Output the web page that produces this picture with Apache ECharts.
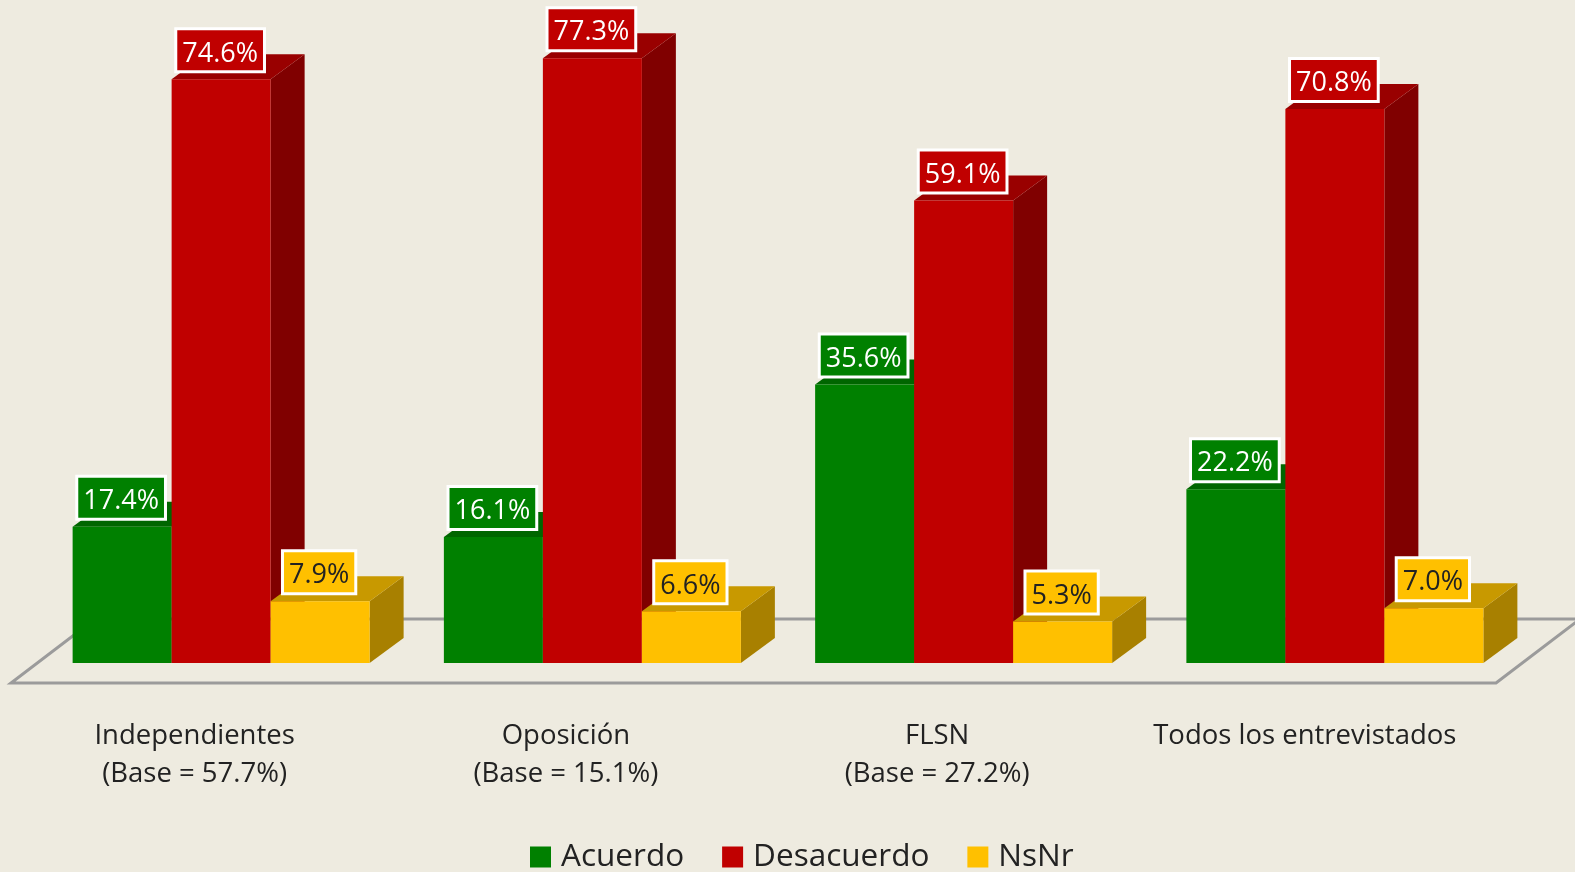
<!DOCTYPE html>
<html>
<head>
<meta charset="utf-8">
<title>Acuerdo / Desacuerdo</title>
<script src="https://cdn.jsdelivr.net/npm/echarts@6/dist/echarts.min.js"></script>
<style>
  html, body { margin: 0; padding: 0; background: #eeebe0; }
  #chart { width: 1575px; height: 872px; }
</style>
</head>
<body>
<div id="chart"></div>
<script>
const categories = [
  "Independientes\n(Base = 57.7%)",
  "Oposición\n(Base = 15.1%)",
  "FLSN\n(Base = 27.2%)",
  "Todos los entrevistados \n "
];
const acuerdo = [17.4, 16.1, 35.6, 22.2];
const desacuerdo = [74.6, 77.3, 59.1, 70.8];
const nsnr = [7.9, 6.6, 5.3, 7.0];

const fontName = '"Open Sans", sans-serif';
const barW = 99;
const depthX = 34;
const depthY = 25;
const groupShift = 26.5; // bars sit further back than the axis labels

// one 3d column: front, top and side faces plus the boxed label
function columnRenderer(slot, faces, textColor) {
  return function (params, api) {
    const val = api.value(1);
    const base = api.coord([api.value(0), 0]);
    const top = api.coord([api.value(0), val]);
    const x0 = base[0] + groupShift + slot * barW - barW / 2;
    const x1 = x0 + barW;
    const y0 = top[1];
    const y1 = base[1];
    return {
      type: "group",
      children: [
        {
          type: "polygon",
          shape: { points: [[x1, y0], [x1 + depthX, y0 - depthY], [x1 + depthX, y1 - depthY], [x1, y1]] },
          style: { fill: faces.side }
        },
        {
          type: "polygon",
          shape: { points: [[x0, y0], [x0 + depthX, y0 - depthY], [x1 + depthX, y0 - depthY], [x1, y0]] },
          style: { fill: faces.top }
        },
        {
          type: "rect",
          shape: { x: x0, y: y0, width: barW, height: y1 - y0 },
          style: { fill: faces.front }
        },
        {
          type: "text",
          z2: 10,
          x: (x0 + x1) / 2 - 1,
          y: y0 - 9,
          style: {
            text: val.toFixed(1) + "%",
            font: '27px ' + fontName,
            fill: textColor,
            align: "center",
            verticalAlign: "bottom",
            backgroundColor: faces.front,
            borderColor: "#ffffff",
            borderWidth: 3,
            padding: [10, 5, 3, 5]
          }
        }
      ]
    };
  };
}

function floorRenderer(params, api) {
  const c = params.coordSys;
  const front = c.y + c.height + 20;
  const back = c.y + c.height - 44;
  return {
    type: "polygon",
    shape: {
      points: [
        [c.x + 2, front],
        [c.x + c.width + 2, front],
        [c.x + c.width + 86, back],
        [c.x + 86, back]
      ]
    },
    style: { fill: "none", stroke: "#9b9b9b", lineWidth: 3 }
  };
}

function toPairs(values) {
  return values.map((v, i) => [i, v]);
}

const chart = echarts.init(document.getElementById("chart"));
chart.setOption({
  animation: false,
  backgroundColor: "#eeebe0",
  textStyle: { fontFamily: fontName },
  grid: { left: 9, width: 1485, top: 5, bottom: 209 },
  legend: {
    data: ["Acuerdo", "Desacuerdo", "NsNr"],
    left: 530,
    top: 841,
    padding: 0,
    icon: "rect",
    itemWidth: 21,
    itemHeight: 21,
    itemGap: 38,
    textStyle: { fontSize: 31.5, color: "#222222", fontFamily: fontName, padding: [3, 0, 0, 5] }
  },
  xAxis: {
    type: "category",
    data: categories,
    axisLine: { show: false },
    axisTick: { show: false },
    axisLabel: {
      interval: 0,
      margin: 54,
      fontSize: 27.5,
      lineHeight: 38,
      color: "#222222",
      fontFamily: fontName
    }
  },
  yAxis: { type: "value", min: 0, max: 84.1, show: false },
  series: [
    {
      type: "custom",
      name: "floor",
      renderItem: floorRenderer,
      data: [[0, 0]],
      silent: true,
      z: 1
    },
    {
      type: "custom",
      name: "Acuerdo",
      itemStyle: { color: "#008000" },
      encode: { x: 0, y: 1 },
      data: toPairs(acuerdo),
      z: 2,
      renderItem: columnRenderer(-1, { front: "#008000", top: "#006600", side: "#005500" }, "#ffffff")
    },
    {
      type: "custom",
      name: "Desacuerdo",
      itemStyle: { color: "#c00000" },
      encode: { x: 0, y: 1 },
      data: toPairs(desacuerdo),
      z: 3,
      renderItem: columnRenderer(0, { front: "#c00000", top: "#990000", side: "#800000" }, "#ffffff")
    },
    {
      type: "custom",
      name: "NsNr",
      itemStyle: { color: "#ffc000" },
      encode: { x: 0, y: 1 },
      data: toPairs(nsnr),
      z: 4,
      renderItem: columnRenderer(1, { front: "#ffc000", top: "#c89900", side: "#a88000" }, "#222222")
    }
  ]
});
</script>
</body>
</html>
